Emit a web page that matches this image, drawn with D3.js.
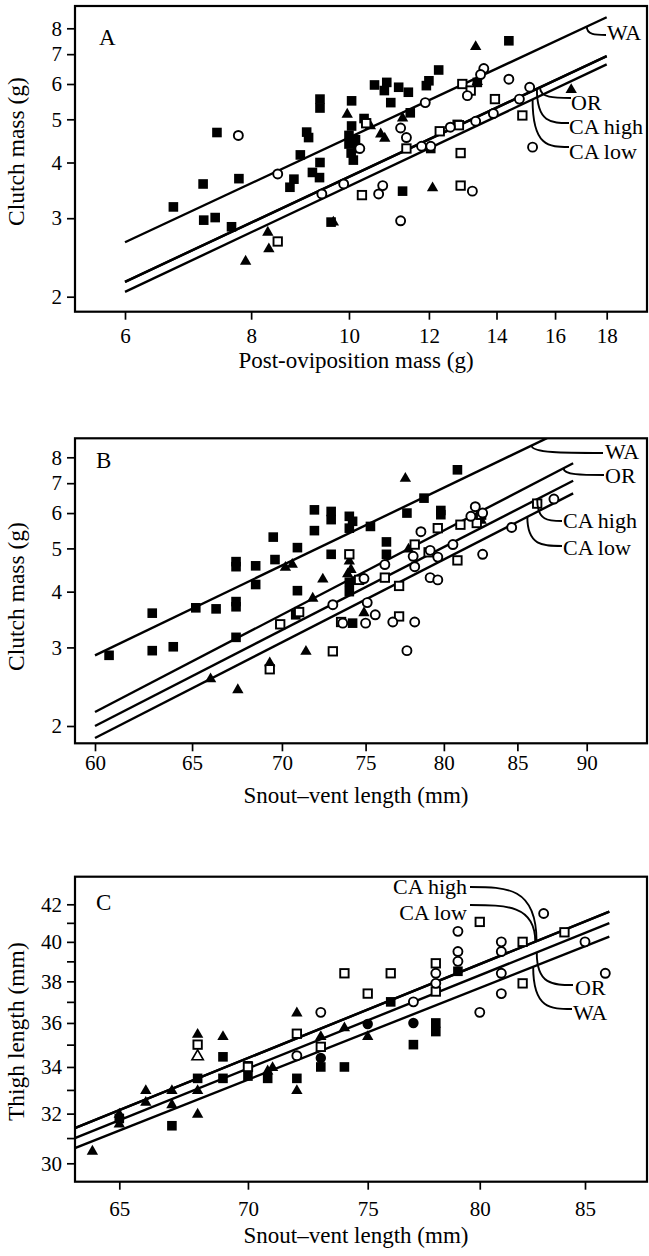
<!DOCTYPE html>
<html>
<head>
<meta charset="utf-8">
<script src="https://cdn.jsdelivr.net/npm/d3@7"></script>
<style>
  body { margin: 0; background: #fff; }
  svg { display: block; }
</style>
</head>
<body>
<script>
// ---------- data ----------
// Panel A: clutch mass vs post-oviposition mass (log-log)
let aSquaresFilled = [[6.7,3.18],[7.17,3.58],[7.4,4.67],[7.18,2.97],[7.37,3.01],[7.78,3.68],[7.65,2.87],
  [9.36,5.55],[9.36,5.3],[9.08,4.68],[9.12,4.55],[8.95,4.16],[9.36,4.0],[8.82,3.67],[8.74,3.52],[9.2,3.8],
  [9.6,2.94],[10.06,5.5],[10.06,4.83],[10.0,4.4],[10.05,4.2],[10.1,4.05],[10.15,4.5],[10.2,4.3],[10.0,4.6],
  [14.4,7.5],[12.27,6.45],[12.0,6.1],[11.93,5.95],[10.6,5.97],[10.9,6.05],[10.84,5.8],[11.2,5.9],[11.45,5.75],
  [11.0,5.45],[10.35,5.02],[11.5,5.17],[12.8,4.87],[13.4,6.05],[12.05,4.3],[9.35,3.7],[11.3,3.45]];
let aTrianglesFilled = [[9.96,5.15],[8.31,2.8],[8.33,2.57],[7.9,2.41],[13.35,7.3],[16.6,5.85],[12.1,3.52],
  [10.75,4.65],[10.85,4.55],[10.5,4.85],[11.3,5.05],[13.4,6.1],[9.65,2.95]];
let aCirclesOpen = [[7.77,4.6],[8.5,3.77],[9.4,3.4],[9.88,3.58],[13.6,6.5],[14.4,6.15],[15.1,5.9],[14.75,5.55],
  [11.9,5.45],[11.25,4.78],[11.4,4.55],[15.2,4.33],[10.8,3.55],[10.7,3.4],[11.25,2.96],[13.25,3.45],[13.1,5.65],
  [13.35,4.95],[13.9,5.15],[12.6,4.8],[11.8,4.35],[10.25,4.3],[12.05,4.35],[13.5,6.3]];
let aSquaresOpen = [[8.5,2.66],[10.3,3.38],[12.95,6.0],[13.2,5.8],[13.95,5.55],[14.85,5.1],[12.9,4.2],
  [12.9,3.55],[11.4,4.3],[12.3,4.7],[10.4,4.9],[12.85,4.85]];
let aFits = [
  { name: "WA",      x: [6, 18], y: [2.65, 8.47] },
  { name: "OR",      x: [6, 18], y: [2.16, 6.93] },
  { name: "CA high", x: [6, 18], y: [2.16, 6.93] },
  { name: "CA low",  x: [6, 18], y: [2.05, 6.64] }
];
let aXTicks = [6, 8, 10, 12, 14, 16, 18];
let aYTicks = [2, 3, 4, 5, 6, 7, 8];

// Panel B: clutch mass vs snout-vent length (log-log)
let bSquaresFilled = [[60.7,2.88],[62.9,3.58],[62.9,2.95],[64,3.01],[65.2,3.68],[66.3,3.66],[67.4,4.67],
  [67.4,4.55],[67.4,3.8],[67.4,3.7],[67.4,3.16],[68.5,4.57],[68.5,4.15],[69.5,5.3],[69.6,4.72],[70.9,5.02],
  [70.9,4.02],[71.9,6.1],[71.9,5.48],[72.9,6.05],[72.9,5.8],[72.9,4.85],[74,5.9],[74,5.55],[74,4.2],[74,4.0],
  [74.2,3.4],[70.8,3.55],[80.9,7.5],[78.7,6.48],[77.6,6.0],[79.8,6.08],[79.8,5.95],[75.3,5.6],[76.3,5.17],
  [76.3,4.85],[74.2,5.75]];
let bTrianglesFilled = [[66,2.56],[67.5,2.42],[71.4,2.95],[69.3,2.78],[72.4,4.28],[71.8,3.88],[70.6,4.62],
  [70.2,4.55],[74,4.7],[73.9,4.4],[77.5,7.2],[77.7,5.0],[82.5,5.8],[74.1,4.5],[74.9,3.6]];
let bSquaresOpen = [[69.9,3.38],[71,3.6],[73,2.94],[69.3,2.68],[74,4.85],[73.5,3.42],[81.1,5.65],[79.6,5.55],
  [78.1,5.1],[79.0,4.9],[76.2,4.3],[77.1,4.12],[77.1,3.52],[80.9,4.7],[82.2,5.7],[86.4,6.3],[74.6,4.25],[82.5,5.95]];
let bCirclesOpen = [[73,3.74],[82.1,6.2],[81.8,5.9],[82.6,6.0],[87.6,6.45],[84.6,5.57],[82.6,4.85],[80.6,5.1],
  [78.5,5.45],[78.0,4.8],[79.6,4.78],[79.1,4.3],[79.6,4.25],[78.1,4.55],[76.2,4.6],[75.1,3.78],[75.6,3.55],
  [75,3.4],[76.7,3.42],[78.1,3.42],[77.6,2.95],[74.9,4.28],[73.6,3.4],[79.1,4.95]];
let bFits = [
  { name: "WA",      x: [60, 87.1], y: [2.88, 8.83] },
  { name: "OR",      x: [60, 89],   y: [2.15, 7.76] },
  { name: "CA high", x: [60, 89],   y: [2.0, 7.09] },
  { name: "CA low",  x: [60, 89],   y: [1.88, 6.64] }
];
let bXTicks = [60, 65, 70, 75, 80, 85, 90];
let bYTicks = [2, 3, 4, 5, 6, 7, 8];

// Panel C: thigh length vs snout-vent length (log-log)
let cTrianglesFilled = [[64,30.5],[65,32.0],[65,31.6],[66,33.0],[66,32.5],[67,33.0],[67,32.4],[68,35.5],
  [68,33.0],[68,32.0],[69,35.4],[70.8,33.85],[72,36.5],[72,33.0],[73,35.4],[75,35.4],[74,35.8],[71,34.0]];
let cTrianglesOpen = [[68,34.5]];
let cSquaresFilled = [[68,33.5],[69,34.45],[69,33.5],[70,34.05],[70,33.6],[70.8,33.5],[72,33.5],[73,34.0],
  [74,34.0],[67,31.5],[76,37.0],[77,35.0],[78,36.0],[78,35.6],[79,38.5],[65,31.8]];
let cCirclesFilled = [[73,34.4],[75,35.95],[77,36.0]];
let cSquaresOpen = [[68,35.0],[72,35.5],[73,34.9],[74,38.4],[76,38.4],[75,37.4],[78,38.9],[78,37.5],
  [80,41.05],[82,40.0],[82,37.9],[84,40.5],[70,34.0]];
let cCirclesOpen = [[72,34.5],[73,36.5],[77,37.0],[78,38.4],[78,37.9],[79,40.55],[79,39.5],[79,39.0],
  [81,40.0],[81,39.5],[81,38.4],[81,37.4],[80,36.5],[83,41.5],[85,40.0],[86,38.4]];
let cFits = [
  { name: "CA high", x: [63.36, 86.2], y: [31.4, 41.6] },
  { name: "CA low",  x: [63.36, 86.2], y: [31.4, 41.6] },
  { name: "OR",      x: [63.36, 86.2], y: [31.0, 40.98] },
  { name: "WA",      x: [63.36, 86.2], y: [30.6, 40.27] }
];
let cXTicks = [65, 70, 75, 80, 85];
let cYTicks = d3.range(30, 43);

// ---------- layout ----------
let canvasW = 649;
let canvasH = 1256;
let frameL = 75;
let frameR = 647;
let font = "'Liberation Serif', 'DejaVu Serif', serif";

let svg = d3.select("body").append("svg")
  .attr("width", canvasW)
  .attr("height", canvasH);

// point on a fitted line (straight in log-log space)
function fitY(f, xv) {
  let t = (Math.log(xv) - Math.log(f.x[0])) / (Math.log(f.x[1]) - Math.log(f.x[0]));
  return Math.exp(Math.log(f.y[0]) + t * (Math.log(f.y[1]) - Math.log(f.y[0])));
}

function drawPanel(p) {
  let g = svg.append("g");
  let x = p.x, y = p.y;

  let clipId = "clip" + p.letter;
  svg.append("clipPath").attr("id", clipId)
    .append("rect")
      .attr("x", frameL).attr("y", p.top)
      .attr("width", frameR - frameL).attr("height", p.bottom - p.top);

  // fitted lines
  let line = d3.line().x(d => x(d[0])).y(d => y(d[1]));
  g.append("g").attr("clip-path", "url(#" + clipId + ")")
    .selectAll("path")
    .data(p.fits)
    .enter()
      .append("path")
        .attr("d", f => line([[f.x[0], f.y[0]], [f.x[1], f.y[1]]]))
        .attr("fill", "none")
        .attr("stroke", "#000")
        .attr("stroke-width", 2.4);

  // markers
  let mg = g.append("g").attr("clip-path", "url(#" + clipId + ")");
  let tri = d3.symbol().type(d3.symbolTriangle).size(56);
  p.marks.forEach(m => {
    let sel = mg.selectAll(null).data(m.data).enter();
    if (m.type == "sqFilled") {
      sel.append("rect")
        .attr("x", d => x(d[0]) - 4.8).attr("y", d => y(d[1]) - 4.8)
        .attr("width", 9.6).attr("height", 9.6)
        .attr("fill", "#000");
    } else if (m.type == "sqOpen") {
      sel.append("rect")
        .attr("x", d => x(d[0]) - 4.2).attr("y", d => y(d[1]) - 4.2)
        .attr("width", 8.4).attr("height", 8.4)
        .attr("fill", "#fff").attr("stroke", "#000").attr("stroke-width", 1.9);
    } else if (m.type == "circOpen") {
      sel.append("circle")
        .attr("cx", d => x(d[0])).attr("cy", d => y(d[1])).attr("r", 4.5)
        .attr("fill", "#fff").attr("stroke", "#000").attr("stroke-width", 1.9);
    } else if (m.type == "circFilled") {
      sel.append("circle")
        .attr("cx", d => x(d[0])).attr("cy", d => y(d[1])).attr("r", 5.2)
        .attr("fill", "#000");
    } else if (m.type == "triFilled" || m.type == "triOpen") {
      let open = m.type == "triOpen";
      sel.append("path")
        .attr("d", tri)
        .attr("transform", d => "translate(" + x(d[0]) + "," + (y(d[1]) + 0.8) + ")")
        .attr("fill", open ? "#fff" : "#000")
        .attr("stroke", open ? "#000" : "none")
        .attr("stroke-width", 1.6);
    }
  });

  // frame
  g.append("rect")
    .attr("x", frameL).attr("y", p.top)
    .attr("width", frameR - frameL).attr("height", p.bottom - p.top)
    .attr("fill", "none").attr("stroke", "#000").attr("stroke-width", 2.2);

  // axes
  let yAxis = g.append("g")
    .attr("transform", "translate(" + frameL + ",0)")
    .call(d3.axisLeft(y).tickValues(p.yTicks).tickSize(8).tickPadding(5)
      .tickFormat(p.yFormat || d3.format("d")));
  let xAxis = g.append("g")
    .attr("transform", "translate(0," + p.bottom + ")")
    .call(d3.axisBottom(x).tickValues(p.xTicks).tickSize(8).tickPadding(p.xPad)
      .tickFormat(d3.format("d")));
  [yAxis, xAxis].forEach(a => {
    a.select(".domain").remove();
    a.selectAll("line").attr("stroke", "#000").attr("stroke-width", 1.7);
    a.selectAll("text")
      .attr("fill", "#000")
      .attr("font-family", font)
      .attr("font-size", "21px");
  });

  // panel letter
  g.append("text")
    .attr("x", p.letterPos[0]).attr("y", p.letterPos[1])
    .attr("font-family", font).attr("font-size", "23px")
    .text(p.letter);

  // axis titles
  g.append("text")
    .attr("x", (frameL + frameR) / 2 - 5).attr("y", p.xTitleY)
    .attr("text-anchor", "middle")
    .attr("font-family", font).attr("font-size", "23px")
    .text(p.xTitle);
  g.append("text")
    .attr("transform", "translate(24," + p.yTitleY + ") rotate(-90)")
    .attr("text-anchor", "middle")
    .attr("font-family", font).attr("font-size", "23.5px")
    .text(p.yTitle);

  // line labels and leaders
  p.labels.forEach(l => {
    let f = p.fits.find(ff => ff.name == l.name);
    let ax = x(l.at), ay = y(fitY(f, l.at));
    let ex = l.end[0], ey = l.end[1];
    g.append("path")
      .attr("d", "M" + ax + "," + ay + " C" + ax + "," + ey + " " + (ax + (ex - ax) * 0.45) + "," + ey + " " + ex + "," + ey)
      .attr("fill", "none").attr("stroke", "#000").attr("stroke-width", 1.9);
    g.append("text")
      .attr("x", l.pos[0]).attr("y", l.pos[1])
      .attr("text-anchor", l.anchor || "start")
      .attr("font-family", font).attr("font-size", "22px")
      .text(l.name);
  });
}

drawPanel({
  letter: "A", top: 6, bottom: 311.7,
  x: d3.scaleLog().domain([6, 18]).range([125, 606.7]),
  y: d3.scaleLog().domain([2, 8]).range([296.7, 28.3]),
  xTicks: aXTicks, yTicks: aYTicks, xPad: 8,
  fits: aFits,
  marks: [
    { type: "sqFilled", data: aSquaresFilled },
    { type: "triFilled", data: aTrianglesFilled },
    { type: "sqOpen", data: aSquaresOpen },
    { type: "circOpen", data: aCirclesOpen }
  ],
  letterPos: [99, 45],
  xTitle: "Post-oviposition mass (g)", xTitleY: 368,
  yTitle: "Clutch mass (g)", yTitleY: 151.5,
  labels: [
    { name: "WA", at: 17.2, end: [606, 35], pos: [607, 40] },
    { name: "OR", at: 15.46, end: [571, 98], pos: [571, 109.5] },
    { name: "CA high", at: 15.35, end: [569, 123], pos: [569, 134] },
    { name: "CA low", at: 15.2, end: [569, 147], pos: [569, 158.5] }
  ]
});

drawPanel({
  letter: "B", top: 438.3, bottom: 743.3,
  x: d3.scaleLog().domain([60, 90]).range([95, 586.7]),
  y: d3.scaleLog().domain([2, 8]).range([726, 457.3]),
  xTicks: bXTicks, yTicks: bYTicks, xPad: 4,
  fits: bFits,
  marks: [
    { type: "sqFilled", data: bSquaresFilled },
    { type: "triFilled", data: bTrianglesFilled },
    { type: "sqOpen", data: bSquaresOpen },
    { type: "circOpen", data: bCirclesOpen }
  ],
  letterPos: [96, 468],
  xTitle: "Snout\u2013vent length (mm)", xTitleY: 803,
  yTitle: "Clutch mass (g)", yTitleY: 596.5,
  labels: [
    { name: "WA", at: 86.0, end: [603, 453], pos: [605, 458.5] },
    { name: "OR", at: 88.3, end: [604, 475], pos: [605, 483] },
    { name: "CA high", at: 86.4, end: [562, 521], pos: [563, 528] },
    { name: "CA low", at: 85.7, end: [562, 546], pos: [563, 555] }
  ]
});

drawPanel({
  letter: "C", top: 876.7, bottom: 1181.7,
  x: d3.scaleLog().domain([65, 85]).range([119.3, 585]),
  y: d3.scaleLog().domain([30, 42]).range([1163.3, 904.3]),
  xTicks: cXTicks, yTicks: cYTicks, xPad: 11,
  yFormat: d => (d % 2 == 0 ? d : ""),
  fits: cFits,
  marks: [
    { type: "sqFilled", data: cSquaresFilled },
    { type: "circFilled", data: cCirclesFilled },
    { type: "triFilled", data: cTrianglesFilled },
    { type: "triOpen", data: cTrianglesOpen },
    { type: "sqOpen", data: cSquaresOpen },
    { type: "circOpen", data: cCirclesOpen }
  ],
  letterPos: [96, 910],
  xTitle: "Snout\u2013vent length (mm)", xTitleY: 1243,
  yTitle: "Thigh length (mm)", yTitleY: 1031.7,
  labels: [
    { name: "CA high", at: 82.66, end: [470, 887], pos: [467, 894], anchor: "end" },
    { name: "CA low", at: 82.6, end: [470, 905], pos: [467, 920], anchor: "end" },
    { name: "OR", at: 82.67, end: [573, 985], pos: [575, 995] },
    { name: "WA", at: 82.5, end: [572, 1009], pos: [573, 1019.5] }
  ]
});
</script>
</body>
</html>
